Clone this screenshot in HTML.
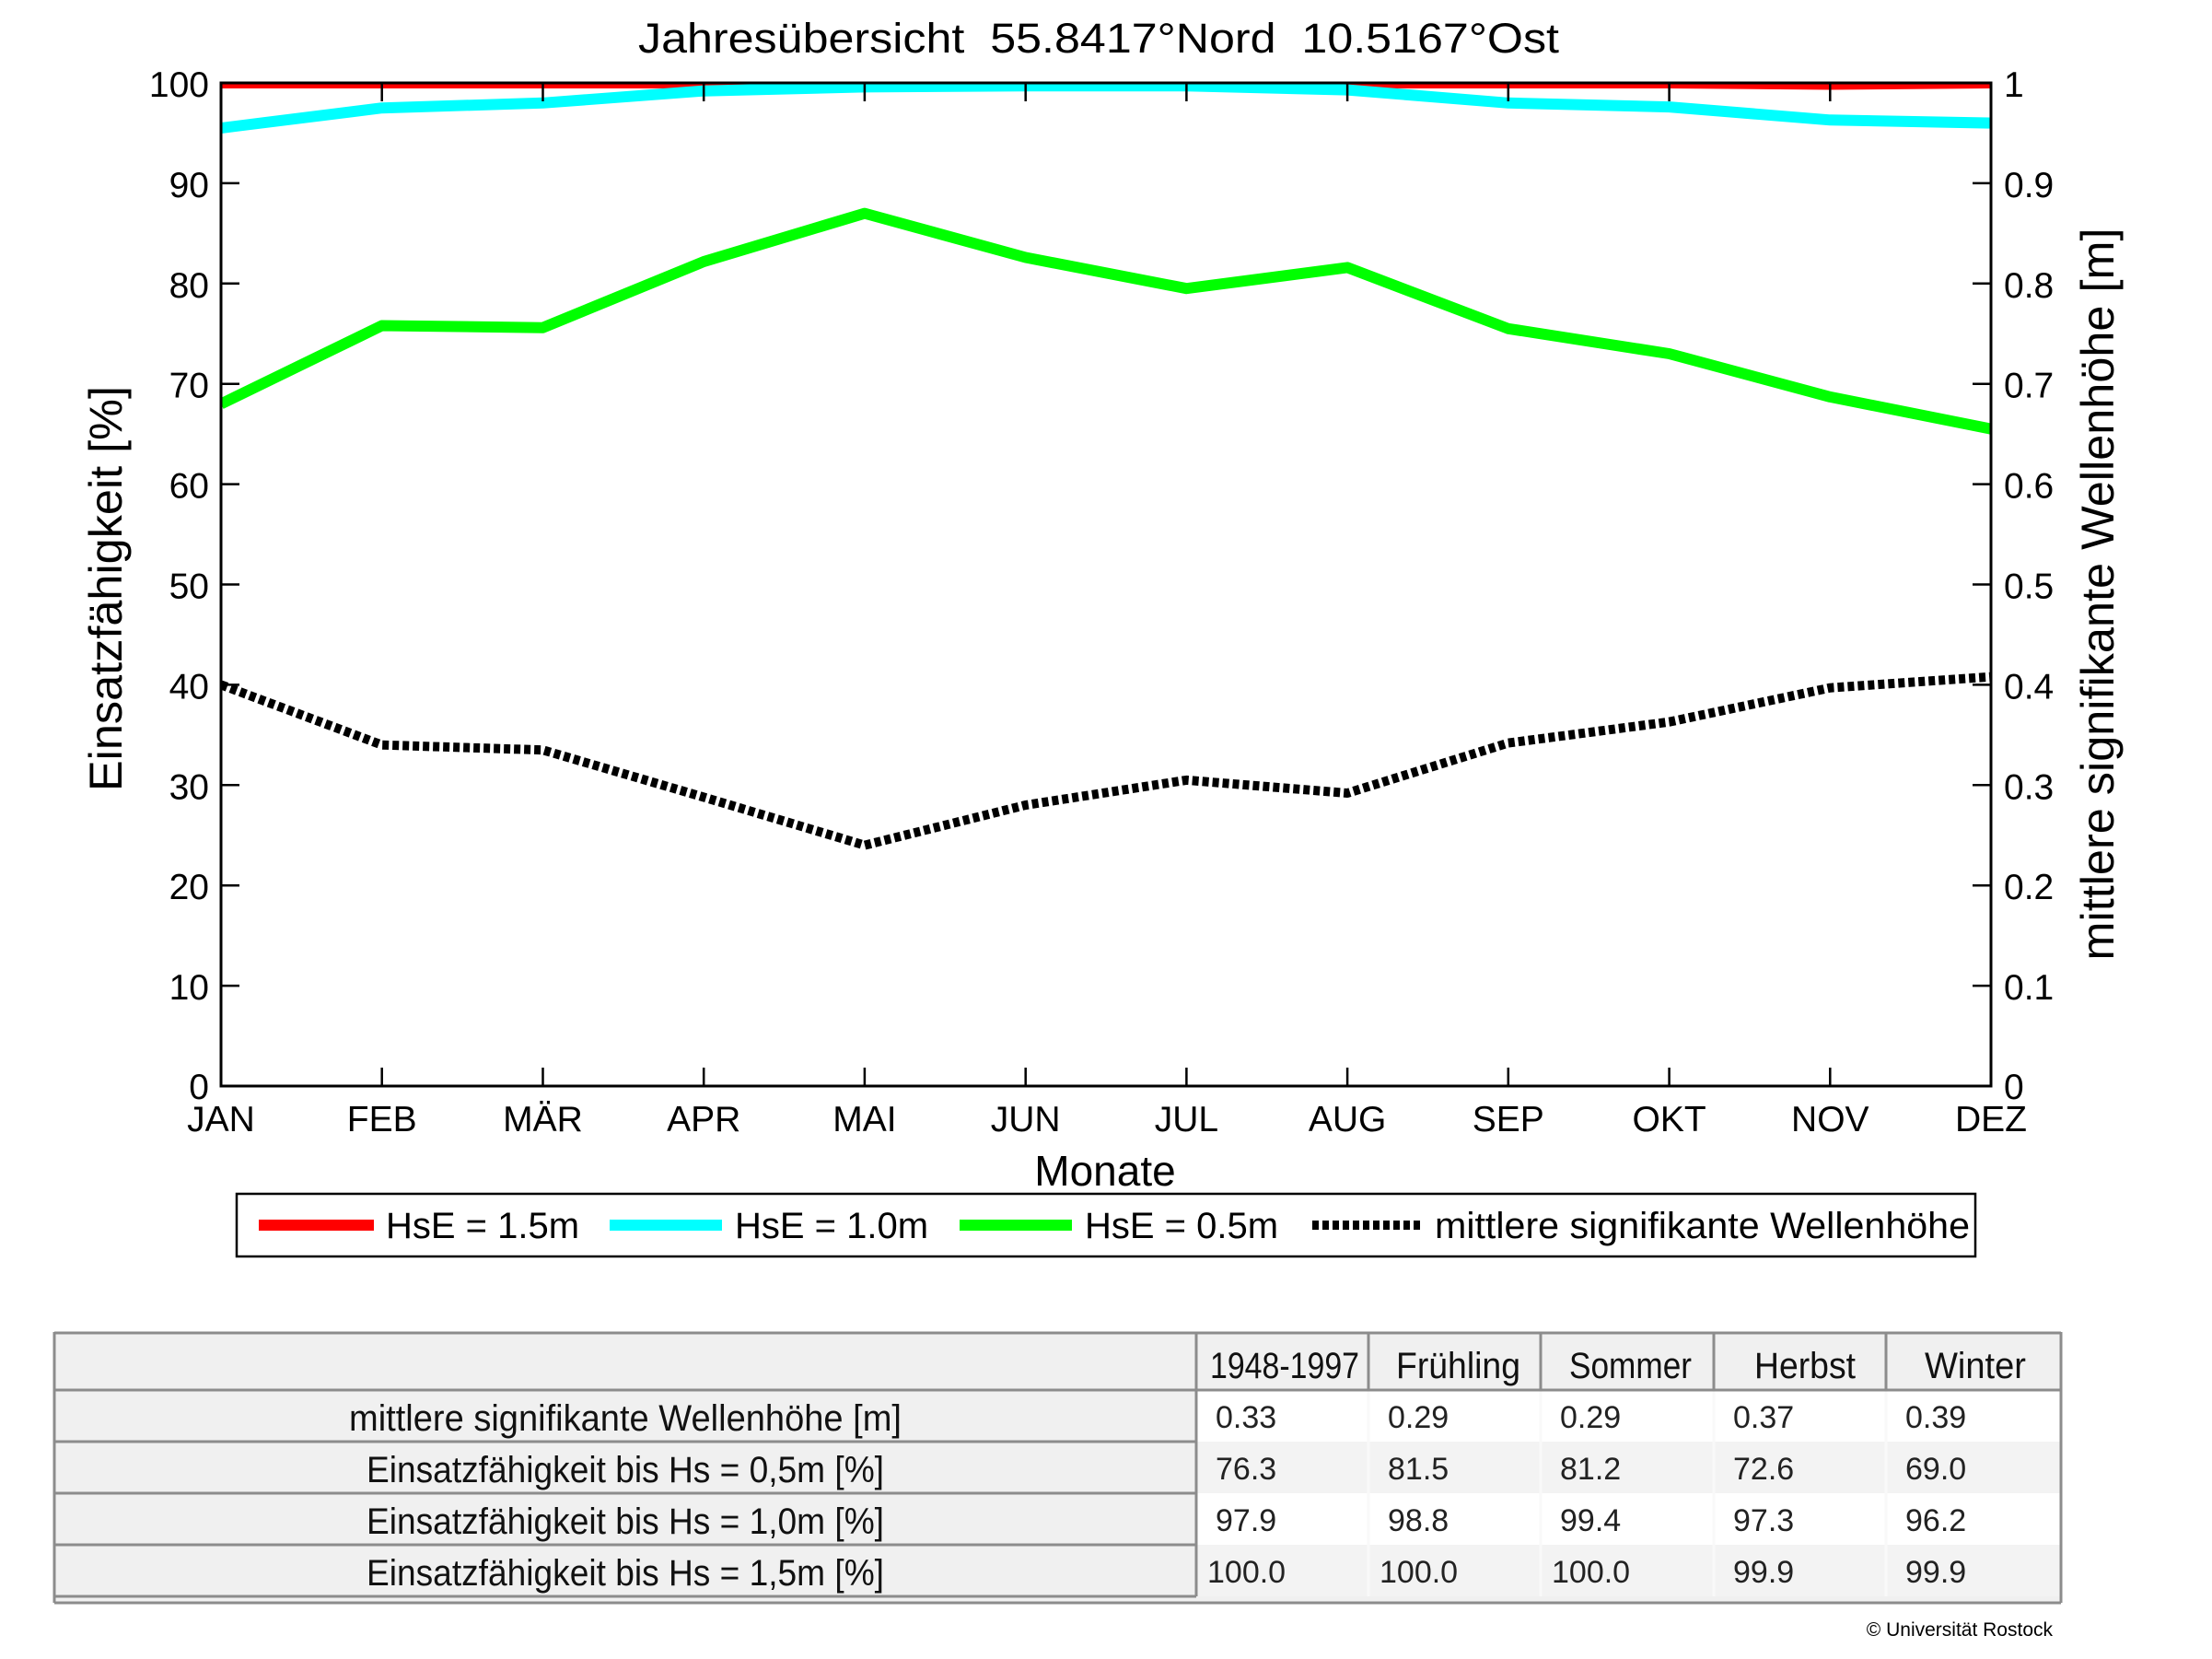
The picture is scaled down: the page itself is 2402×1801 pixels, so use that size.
<!DOCTYPE html>
<html><head><meta charset="utf-8"><style>
html,body{margin:0;padding:0;background:#fff;}
svg{display:block;}
</style></head><body>
<svg width="2402" height="1801" viewBox="0 0 2402 1801" xmlns="http://www.w3.org/2000/svg" font-family="Liberation Sans, Arial, sans-serif">
<defs><clipPath id="pc"><rect x="240" y="90" width="1922" height="1089"/></clipPath></defs>
<rect width="2402" height="1801" fill="#fff"/>
<text x="1193" y="57" font-size="45" text-anchor="middle" textLength="1000" lengthAdjust="spacingAndGlyphs">Jahresübersicht&#160;&#160;55.8417°Nord&#160;&#160;10.5167°Ost</text>

<g clip-path="url(#pc)" fill="none" stroke-linejoin="round">
<polyline stroke="#ff0000" stroke-width="12" points="240,90 414.7,90 589.5,90 764.2,90 938.9,90 1113.7,90 1288.4,90 1463.1,90 1637.8,90 1812.6,90 1987.3,91.5 2162,90"/>
<polyline stroke="#00ffff" stroke-width="12" points="240,139 414.7,117.2 589.5,111.8 764.2,98.7 938.9,94.4 1113.7,93.3 1288.4,93.3 1463.1,97.6 1637.8,111.8 1812.6,116.1 1987.3,130.3 2162,133.6"/>
<polyline stroke="#00ff00" stroke-width="12" points="240,438.5 414.7,353.5 589.5,355.7 764.2,284 938.9,231.6 1113.7,279.5 1288.4,313.2 1463.1,290.4 1637.8,356.8 1812.6,384 1987.3,430.9 2162,465.7"/>
<polyline stroke="#000" stroke-width="10" stroke-dasharray="7 4" points="240,743.4 414.7,808.7 589.5,814.2 764.2,865.4 938.9,917.6 1113.7,874 1288.4,846.9 1463.1,861 1637.8,806.6 1812.6,783.7 1987.3,746.7 2162,734.7"/>
</g>

<rect x="240" y="90" width="1922" height="1089" fill="none" stroke="#000" stroke-width="3"/>
<g stroke="#000" stroke-width="2.5">
<path d="M240,198.9h20M240,307.8h20M240,416.7h20M240,525.6h20M240,634.5h20M240,743.4h20M240,852.3h20M240,961.2h20M240,1070.1h20"/>
<path d="M2162,198.9h-20M2162,307.8h-20M2162,416.7h-20M2162,525.6h-20M2162,634.5h-20M2162,743.4h-20M2162,852.3h-20M2162,961.2h-20M2162,1070.1h-20"/>
<path d="M414.7,1179v-20M589.5,1179v-20M764.2,1179v-20M938.9,1179v-20M1113.7,1179v-20M1288.4,1179v-20M1463.1,1179v-20M1637.8,1179v-20M1812.6,1179v-20M1987.3,1179v-20"/>
<path d="M414.7,90v20M589.5,90v20M764.2,90v20M938.9,90v20M1113.7,90v20M1288.4,90v20M1463.1,90v20M1637.8,90v20M1812.6,90v20M1987.3,90v20"/>
</g>

<g font-size="39" text-anchor="end">
<text x="227" y="105">100</text><text x="227" y="213.9">90</text><text x="227" y="322.8">80</text><text x="227" y="431.7">70</text><text x="227" y="540.6">60</text><text x="227" y="649.5">50</text><text x="227" y="758.4">40</text><text x="227" y="867.3">30</text><text x="227" y="976.2">20</text><text x="227" y="1085.1">10</text><text x="227" y="1193">0</text>
</g>
<g font-size="39" text-anchor="start">
<text x="2176" y="105">1</text><text x="2176" y="213.9">0.9</text><text x="2176" y="322.8">0.8</text><text x="2176" y="431.7">0.7</text><text x="2176" y="540.6">0.6</text><text x="2176" y="649.5">0.5</text><text x="2176" y="758.4">0.4</text><text x="2176" y="867.3">0.3</text><text x="2176" y="976.2">0.2</text><text x="2176" y="1085.1">0.1</text><text x="2176" y="1193">0</text>
</g>
<g font-size="39" text-anchor="middle">
<text x="240" y="1228">JAN</text><text x="414.7" y="1228">FEB</text><text x="589.5" y="1228">MÄR</text><text x="764.2" y="1228">APR</text><text x="938.9" y="1228">MAI</text><text x="1113.7" y="1228">JUN</text><text x="1288.4" y="1228">JUL</text><text x="1463.1" y="1228">AUG</text><text x="1637.8" y="1228">SEP</text><text x="1812.6" y="1228">OKT</text><text x="1987.3" y="1228">NOV</text><text x="2162" y="1228">DEZ</text>
</g>
<text x="1200" y="1287" font-size="46" text-anchor="middle">Monate</text>
<text transform="translate(132,639) rotate(-90)" font-size="50" text-anchor="middle" textLength="440" lengthAdjust="spacingAndGlyphs">Einsatzfähigkeit [%]</text>
<text transform="translate(2295,645) rotate(-90)" font-size="50" text-anchor="middle" textLength="795" lengthAdjust="spacingAndGlyphs">mittlere signifikante Wellenhöhe [m]</text>

<rect x="257" y="1296" width="1888" height="68" fill="#fff" stroke="#000" stroke-width="2.5"/>
<line x1="281" y1="1330" x2="406" y2="1330" stroke="#ff0000" stroke-width="12"/>
<line x1="662" y1="1330" x2="784" y2="1330" stroke="#00ffff" stroke-width="12"/>
<line x1="1042" y1="1330" x2="1164" y2="1330" stroke="#00ff00" stroke-width="12"/>
<line x1="1425" y1="1330" x2="1544" y2="1330" stroke="#000" stroke-width="10" stroke-dasharray="7 4"/>
<g font-size="40">
<text x="419" y="1344">HsE = 1.5m</text>
<text x="798" y="1344">HsE = 1.0m</text>
<text x="1178" y="1344">HsE = 0.5m</text>
<text x="1558" y="1344" textLength="581" lengthAdjust="spacingAndGlyphs">mittlere signifikante Wellenhöhe</text>
</g>

<!-- table -->
<rect x="59" y="1446" width="2179" height="294" fill="#f0f0f0"/>
<rect x="1299" y="1509" width="939" height="56" fill="#fff"/>
<rect x="1299" y="1565" width="939" height="56" fill="#f3f3f3"/>
<rect x="1299" y="1621" width="939" height="56" fill="#fff"/>
<rect x="1299" y="1677" width="939" height="56" fill="#f3f3f3"/>
<g stroke="#f9f9f9" stroke-width="3">
<path d="M1486,1509V1733M1673,1509V1733M1861,1509V1733M2048,1509V1733"/>
</g>
<g stroke="#8c8c8c" stroke-width="3" fill="none">
<path d="M59,1447H2238M59,1509H1299M59,1565H1299M59,1621H1299M59,1677H1299M59,1733H1299M59,1740H2238"/>
<path d="M59,1446V1740M2238,1446V1740M1299,1446V1733M1486,1446V1509M1673,1446V1509M1861,1446V1509M2048,1446V1509"/>
<path d="M1299,1509H2238"/>
</g>
<g font-size="40" fill="#111">
<text x="1314" y="1496" textLength="162" lengthAdjust="spacingAndGlyphs">1948-1997</text>
<text x="1516" y="1496" textLength="135" lengthAdjust="spacingAndGlyphs">Frühling</text>
<text x="1704" y="1496" textLength="133" lengthAdjust="spacingAndGlyphs">Sommer</text>
<text x="1905" y="1496" textLength="110" lengthAdjust="spacingAndGlyphs">Herbst</text>
<text x="2090" y="1496" textLength="110" lengthAdjust="spacingAndGlyphs">Winter</text>
</g>
<g font-size="40" fill="#111" text-anchor="middle">
<text x="679" y="1553" textLength="600" lengthAdjust="spacingAndGlyphs">mittlere signifikante Wellenhöhe [m]</text>
<text x="679" y="1609" textLength="562" lengthAdjust="spacingAndGlyphs">Einsatzfähigkeit bis Hs = 0,5m [%]</text>
<text x="679" y="1665" textLength="562" lengthAdjust="spacingAndGlyphs">Einsatzfähigkeit bis Hs = 1,0m [%]</text>
<text x="679" y="1721" textLength="562" lengthAdjust="spacingAndGlyphs">Einsatzfähigkeit bis Hs = 1,5m [%]</text>
</g>
<g font-size="34" fill="#222">
<text x="1320" y="1550">0.33</text><text x="1507" y="1550">0.29</text><text x="1694" y="1550">0.29</text><text x="1882" y="1550">0.37</text><text x="2069" y="1550">0.39</text>
<text x="1320" y="1606">76.3</text><text x="1507" y="1606">81.5</text><text x="1694" y="1606">81.2</text><text x="1882" y="1606">72.6</text><text x="2069" y="1606">69.0</text>
<text x="1320" y="1662">97.9</text><text x="1507" y="1662">98.8</text><text x="1694" y="1662">99.4</text><text x="1882" y="1662">97.3</text><text x="2069" y="1662">96.2</text>
<text x="1311" y="1718">100.0</text><text x="1498" y="1718">100.0</text><text x="1685" y="1718">100.0</text><text x="1882" y="1718">99.9</text><text x="2069" y="1718">99.9</text>
</g>
<text x="2229" y="1776" font-size="21" text-anchor="end">© Universität Rostock</text>
</svg>
</body></html>
